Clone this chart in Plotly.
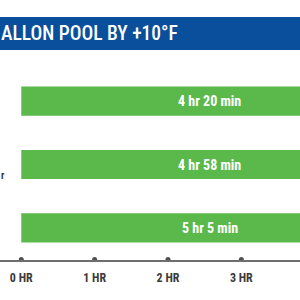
import plotly.graph_objects as go

categories = ["Heater A", "Heater B", "Heater C"]
hours = [4 + 20/60, 4 + 58/60, 5 + 5/60]
bar_labels = ["4 hr 20 min", "4 hr 58 min", "5 hr 5 min"]
tick_vals = [0, 1, 2, 3, 4, 5]
tick_text = ["0 HR", "1 HR", "2 HR", "3 HR", "4 HR", "5 HR"]
title_text = "ALLON POOL BY +10°F"

GREEN = "#5ab94a"
BLUE = "#0a4f9c"
AXIS = "#6e6e6e"
TXT = "#3a3a3a"
LABEL_X = 2.57
COND = "Roboto Condensed, Open Sans Condensed, sans-serif"

fig = go.Figure()
fig.add_trace(go.Bar(
    x=hours, y=categories, orientation="h",
    marker=dict(color=GREEN, line=dict(width=0)),
    hoverinfo="skip", showlegend=False,
))
fig.add_trace(go.Scatter(
    x=tick_vals, y=[0] * len(tick_vals), yaxis="y2", mode="markers",
    marker=dict(color="#505050", size=5), cliponaxis=False,
    hoverinfo="skip", showlegend=False,
))

annotations = []
for cat, lab in zip(categories, bar_labels):
    annotations.append(dict(
        x=LABEL_X, y=cat, xref="x", yref="y", text=lab, showarrow=False,
        font=dict(family=COND, size=14, color="white", weight="bold"),
    ))
annotations.append(dict(
    x=0, y=1 - 33.5/300, xref="paper", yref="paper", xanchor="left", yanchor="middle",
    text=title_text, showarrow=False, xshift=-1,
    font=dict(family=COND, size=19.5, color="white", weight=500),
))
annotations.append(dict(
    x=0, y=1 - 175/300, xref="paper", yref="paper", xanchor="left", yanchor="middle",
    text="r", showarrow=False, xshift=-1,
    font=dict(family=COND, size=10, color="#2a3550", weight="bold"),
))

fig.update_layout(
    width=300, height=300,
    margin=dict(l=0, r=0, t=0, b=0),
    paper_bgcolor="white", plot_bgcolor="white",
    bargap=0.54,
    xaxis=dict(
        range=[-0.29, 3.8], tickvals=tick_vals, ticktext=tick_text,
        showgrid=False, zeroline=False, showline=True, linecolor=AXIS, linewidth=1.5,
        ticks="", ticklabelstandoff=6,
        tickfont=dict(family=COND, size=12, color=TXT, weight="bold"),
    ),
    yaxis=dict(
        domain=[1 - 259.5/300, 1 - 69.5/300], autorange="reversed",
        showticklabels=False, showgrid=False, zeroline=False, showline=False,
        categoryorder="array", categoryarray=categories,
    ),
    yaxis2=dict(
        domain=[1 - 259.5/300, 1 - 69.5/300], overlaying="y", range=[0, 1],
        visible=False,
    ),
    shapes=[dict(
        type="rect", xref="paper", yref="paper", x0=0, x1=1,
        y0=1 - 50/300, y1=1 - 17/300, fillcolor=BLUE, line=dict(width=0), layer="below",
    )],
    annotations=annotations,
)

fig.write_html("out.html")
